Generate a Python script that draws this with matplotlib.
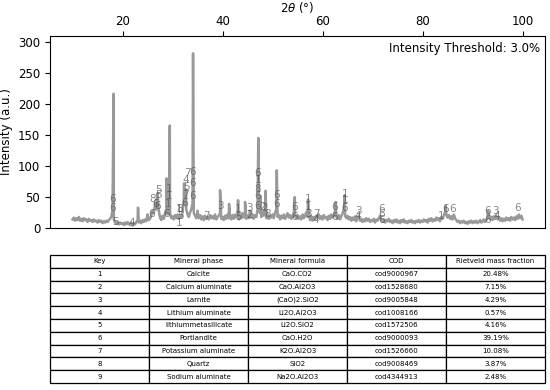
import numpy as np
import matplotlib
import matplotlib.pyplot as plt

matplotlib.use('Agg')
plt.rcParams['font.size'] = 8.5

two_theta = np.arange(10.0, 100.01, 0.25)
intensity = [
    14, 17, 12, 16, 13, 18, 12, 15, 11, 16, 13, 14, 10, 15, 12, 13, 10, 14, 11, 12,
    9, 13, 10, 12, 8, 11, 9, 12, 10, 13, 15, 18, 30, 14, 9, 7, 10, 6, 9, 7,
    8, 5, 9, 6, 10, 7, 5, 9, 4, 8, 6, 10, 12, 9, 12, 8, 13, 10, 14, 11,
    22, 13, 15, 20, 28, 24, 40, 30, 56, 28, 17, 13, 20, 15, 24, 30, 22, 28, 24, 16,
    19, 14, 21, 16, 22, 15, 20, 17, 25, 45, 38, 30, 22, 18, 25, 30, 40, 24, 20, 16,
    28, 16, 21, 14, 19, 13, 20, 15, 18, 14, 21, 16, 19, 15, 22, 14, 18, 20, 24, 15,
    18, 13, 20, 15, 22, 16, 19, 14, 21, 15, 22, 17, 20, 14, 22, 16, 24, 17, 21, 15,
    20, 16, 28, 17, 22, 15, 21, 18, 30, 40, 24, 18, 26, 20, 28, 16, 22, 15, 20, 17,
    22, 16, 25, 30, 18, 21, 14, 20, 16, 22, 15, 19, 24, 17, 21, 15, 18, 26, 20, 16,
    21, 15, 19, 14, 22, 16, 20, 26, 18, 24, 13, 19, 12, 18, 14, 20, 16, 22, 15, 19,
    14, 21, 16, 18, 13, 20, 15, 22, 17, 20, 28, 18, 15, 21, 14, 19, 24, 30, 20, 16,
    20, 14, 18, 12, 17, 13, 19, 11, 16, 20, 12, 15, 10, 14, 11, 16, 12, 15, 10, 13,
    11, 15, 9, 14, 12, 16, 20, 13, 10, 14, 9, 13, 11, 15, 10, 12, 8, 13, 10, 14,
    9, 12, 8, 13, 10, 14, 9, 11, 8, 12, 10, 13, 9, 11, 8, 12, 10, 13, 9, 12,
    10, 14, 11, 13, 9, 15, 12, 16, 11, 14, 12, 17, 13, 16, 11, 18, 15, 20, 26, 22,
    17, 21, 15, 19, 14, 22, 16, 13, 10, 12, 8, 11, 9, 12, 8, 10, 7, 11, 9, 12,
    8, 11, 9, 12, 8, 10, 13, 9, 11, 14, 10, 13, 16, 22, 14, 18, 13, 19, 15, 20,
    14, 18, 12, 16, 11, 15, 12, 17, 13, 16, 12, 18, 14, 17, 13, 19, 15, 22, 16, 20,
    14,
]

# sharp reflections
peak_pos = [18.2, 23.1, 28.8, 29.45, 32.3, 32.7, 34.1, 39.5, 41.3, 43.1, 44.5,
            47.15, 47.55, 48.6, 50.85, 54.45, 57.1, 62.65, 64.45, 84.65, 93.1]
peak_height = [216, 33, 80, 165, 72, 62, 281, 61, 39, 45, 42,
               145, 52, 60, 93, 50, 46, 42, 53, 36, 28]

# phase keys annotated on the pattern
label_x = [18.0, 18.0, 18.5, 21.9, 25.9, 26.1, 26.6, 27.1, 27.1, 27.1,
           28.8, 29.3, 29.3, 29.2, 31.3, 31.5, 31.5, 31.3,
           32.9, 32.7, 32.8, 32.5, 32.4, 34.1, 34.1, 34.1, 36.8, 39.5,
           43.1, 43.1, 45.3, 45.5, 47.1, 47.2, 47.1, 47.1, 47.1,
           48.1, 48.4, 49.1, 50.8, 50.8, 54.5, 54.5, 57.1, 57.1, 57.2,
           58.7, 58.6, 62.5, 62.5, 64.5, 64.5, 64.4, 67.1, 67.1,
           71.8, 71.8, 71.8, 83.8, 84.6, 86.1, 93.1, 93.1, 94.5, 94.8, 99.0]
label_y = [39, 25, 2, 0, 15, 39, 30, 53, 45, 28,
           15, 55, 43, 30, 23, 23, 12, 0,
           80, 69, 58, 45, 33, 83, 65, 44, 12, 28,
           10, 22, 25, 13, 80, 69, 55, 44, 28,
           26, 25, 15, 45, 30, 26, 10, 39, 26, 15,
           15, 5, 26, 10, 47, 37, 24, 19, 12,
           23, 14, 5, 12, 23, 23, 20, 5, 20, 12, 24]
label_key = ['6', '6', '5', '4', '6', '8', '6', '5', '5', '6',
             '6', '1', '1', '1', '1', '8', '5', '1',
             '7', '4', '5', '7', '6', '6', '6', '6', '7', '3',
             '5', '1', '3', '2', '6', '1', '8', '6', '6',
             '2', '2', '8', '6', '6', '6', '6', '1', '1', '3',
             '7', '4', '6', '6', '1', '1', '6', '3', '4',
             '6', '6', '6', '1', '6', '6', '6', '6', '3', '4', '6']

col_labels = ['Key', 'Mineral phase', 'Mineral formula', 'COD', 'Rietveld mass fraction']
keys = ['1', '2', '3', '4', '5', '6', '7', '8', '9']
phases = ['Calcite', 'Calcium aluminate', 'Larnite', 'Lithium aluminate',
          'lithiummetasilicate', 'Portlandite', 'Potassium aluminate', 'Quartz',
          'Sodium aluminate']
formulas = ['CaO.CO2', 'CaO.Al2O3', '(CaO)2.SiO2', 'Li2O.Al2O3', 'Li2O.SiO2',
            'CaO.H2O', 'K2O.Al2O3', 'SiO2', 'Na2O.Al2O3']
cods = ['cod9000967', 'cod1528680', 'cod9005848', 'cod1008166', 'cod1572506',
        'cod9000093', 'cod1526660', 'cod9008469', 'cod4344913']
fractions = ['20.48%', '7.15%', '4.29%', '0.57%', '4.16%', '39.19%', '10.08%',
             '3.87%', '2.48%']
threshold = 3.0

# merge the peaks into the background trace
x_all = np.concatenate([two_theta, peak_pos])
y_all = np.concatenate([np.array(intensity, dtype=float), peak_height])
order = np.argsort(x_all, kind='stable')
x_all = x_all[order]
y_all = y_all[order]

fig = plt.figure(figsize=(5.5, 3.9), dpi=100)
ax = fig.add_axes([0.091, 0.415, 0.9, 0.493])
ax.plot(x_all, y_all, color='#999999', lw=1.8)
for x, y, k in zip(label_x, label_y, label_key):
    ax.text(x, y, k, fontsize=7.5, color='#555555', alpha=0.7, ha='center', va='bottom')

ax.set_ylim(0, 1.1 * max(y_all))
ax.xaxis.tick_top()
ax.xaxis.set_label_position('top')
ax.tick_params(axis='x', pad=2)
ax.set_xlabel(r'$2\theta$ (°)', labelpad=2)
ax.set_ylabel('Intensity (a.u.)')
ax.text(0.99, 0.97, f'Intensity Threshold: {threshold}%', transform=ax.transAxes,
        ha='right', va='top')

# phase table
tax = fig.add_axes([0.091, 0.018, 0.9, 0.328])
tax.axis('off')
rows = [list(r) for r in zip(keys, phases, formulas, cods, fractions)]
tbl = tax.table(cellText=rows, colLabels=col_labels, cellLoc='center',
                loc='center', bbox=[0, 0, 1, 1])
tbl.auto_set_font_size(False)
tbl.set_fontsize(5.0)
for cell in tbl.get_celld().values():
    cell.set_linewidth(0.9)

plt.savefig('out.png')
